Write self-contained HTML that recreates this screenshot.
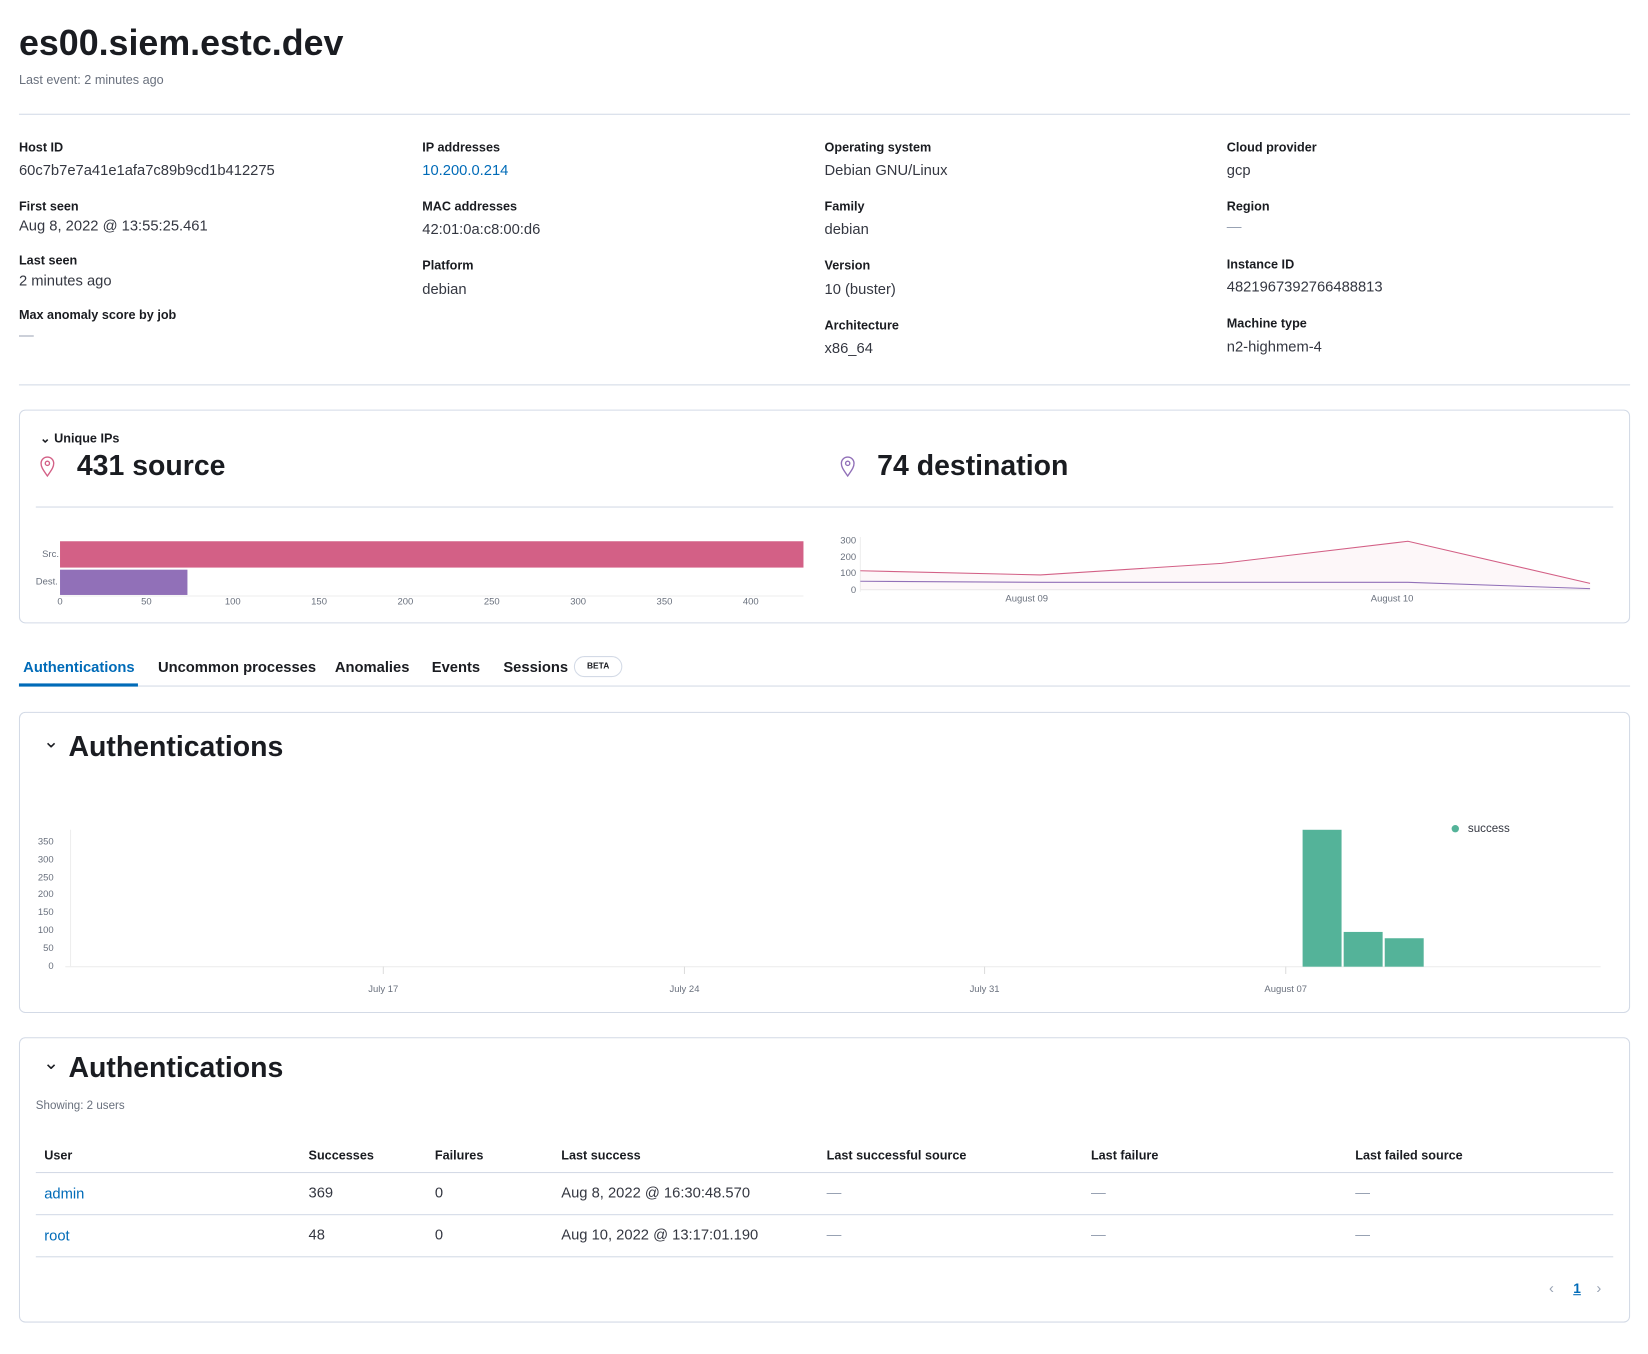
<!DOCTYPE html>
<html><head><meta charset="utf-8"><style>
html,body{margin:0;padding:0;background:#fff;width:1648px;height:1354px;overflow:hidden}
#w{position:absolute;left:0;top:0;width:1565px;height:1286px;transform:scale(1.05303);transform-origin:0 0;font-family:"Liberation Sans",sans-serif;color:#343741}
.a{position:absolute;white-space:nowrap}
.lb{font-size:12px;font-weight:bold;color:#1a1c21}
.v{font-size:14px;color:#343741}
.hr{position:absolute;height:1px;background:#d3dae6}
.card{position:absolute;border:1px solid #d3dae6;border-radius:6px;background:#fff}
.t{font-size:11px;color:#69707d}
.tab{font-size:14px;font-weight:bold;color:#1a1c21}
.h{font-size:12px;font-weight:bold;color:#1a1c21}
.dash{color:#98a2b3}
</style></head><body><div id="w">
<div class="a" style="left:18px;top:22px;font-size:34px;font-weight:bold;color:#1a1c21">es00.siem.estc.dev</div>
<div class="a" style="left:18px;top:69px;font-size:12px;color:#69707d">Last event: 2 minutes ago</div>
<div class="hr" style="left:18px;width:1530px;top:108px"></div>

<div class="a lb" style="left:18px;top:133px">Host ID</div><div class="a v" style="left:18px;top:153px">60c7b7e7a41e1afa7c89b9cd1b412275</div>
<div class="a lb" style="left:18px;top:189px">First seen</div><div class="a v" style="left:18px;top:206px">Aug 8, 2022 @ 13:55:25.461</div>
<div class="a lb" style="left:18px;top:240px">Last seen</div><div class="a v" style="left:18px;top:258px">2 minutes ago</div>
<div class="a lb" style="left:18px;top:292px">Max anomaly score by job</div><div class="a v dash" style="left:18px;top:310px">—</div>

<div class="a lb" style="left:401px;top:133px">IP addresses</div><div class="a v" style="left:401px;top:153px;color:#006bb8">10.200.0.214</div>
<div class="a lb" style="left:401px;top:189px">MAC addresses</div><div class="a v" style="left:401px;top:209px">42:01:0a:c8:00:d6</div>
<div class="a lb" style="left:401px;top:245px">Platform</div><div class="a v" style="left:401px;top:266px">debian</div>

<div class="a lb" style="left:783px;top:133px">Operating system</div><div class="a v" style="left:783px;top:153px">Debian GNU/Linux</div>
<div class="a lb" style="left:783px;top:189px">Family</div><div class="a v" style="left:783px;top:209px">debian</div>
<div class="a lb" style="left:783px;top:245px">Version</div><div class="a v" style="left:783px;top:266px">10 (buster)</div>
<div class="a lb" style="left:783px;top:302px">Architecture</div><div class="a v" style="left:783px;top:322px">x86_64</div>

<div class="a lb" style="left:1165px;top:133px">Cloud provider</div><div class="a v" style="left:1165px;top:153px">gcp</div>
<div class="a lb" style="left:1165px;top:189px">Region</div><div class="a v dash" style="left:1165px;top:207px">—</div>
<div class="a lb" style="left:1165px;top:244px">Instance ID</div><div class="a v" style="left:1165px;top:264px">4821967392766488813</div>
<div class="a lb" style="left:1165px;top:300px">Machine type</div><div class="a v" style="left:1165px;top:321px">n2-highmem-4</div>
<div class="hr" style="left:18px;width:1530px;top:365px"></div>

<div class="card" style="left:18px;top:389px;width:1528px;height:201px"></div>
<div class="a" style="left:38px;top:409px;font-size:12px;font-weight:bold;color:#1a1c21">⌄&nbsp;Unique IPs</div>
<svg class="a" style="left:36px;top:432px" width="18" height="22" viewBox="0 0 18 22"><path d="M9 20 C4 13 3 11 3 8 a6 6 0 0 1 12 0 c0 3 -1 5 -6 12z" fill="none" stroke="#d36086" stroke-width="1.3"/><circle cx="9" cy="8" r="2" fill="none" stroke="#d36086" stroke-width="1.3"/></svg>
<div class="a" style="left:73px;top:427px;font-size:27px;font-weight:bold;color:#1a1c21">431 source</div>
<svg class="a" style="left:796px;top:432px" width="18" height="22" viewBox="0 0 18 22"><path d="M9 20 C4 13 3 11 3 8 a6 6 0 0 1 12 0 c0 3 -1 5 -6 12z" fill="none" stroke="#9170b8" stroke-width="1.3"/><circle cx="9" cy="8" r="2" fill="none" stroke="#9170b8" stroke-width="1.3"/></svg>
<div class="a" style="left:833px;top:427px;font-size:27px;font-weight:bold;color:#1a1c21">74 destination</div>
<div class="hr" style="left:34px;width:1498px;top:481px"></div>

<svg class="a" style="left:0;top:500px" width="1565" height="80" font-family="Liberation Sans" font-size="9" fill="#69707d">
<rect x="57" y="14" width="706" height="25" fill="#d36086"/>
<rect x="57" y="41" width="121" height="24" fill="#9170b8"/>
<line x1="57" y1="66" x2="763" y2="66" stroke="#eee"/>
<text x="40" y="29">Src.</text><text x="34" y="55">Dest.</text>
<g text-anchor="middle"><text x="57" y="74">0</text><text x="139" y="74">50</text><text x="221" y="74">100</text><text x="303" y="74">150</text><text x="385" y="74">200</text><text x="467" y="74">250</text><text x="549" y="74">300</text><text x="631" y="74">350</text><text x="713" y="74">400</text></g>
<g text-anchor="end"><text x="813" y="16">300</text><text x="813" y="32">200</text><text x="813" y="47">100</text><text x="813" y="63">0</text></g>
<line x1="817" y1="10" x2="817" y2="62" stroke="#eee"/>
<line x1="817" y1="60" x2="1510" y2="60" stroke="#eee"/>
<polygon points="817,42 988,46 1160,35 1337,14 1510,54 1510,60 817,60" fill="#d36086" fill-opacity="0.05"/>
<polyline points="817,42 988,46 1160,35 1337,14 1510,54" fill="none" stroke="#d36086" stroke-width="1"/>
<polyline points="817,52 988,53 1160,53 1337,53 1510,59" fill="none" stroke="#9170b8" stroke-width="1"/>
<g text-anchor="middle"><text x="975" y="71">August 09</text><text x="1322" y="71">August 10</text></g>
</svg>

<div class="a tab" style="left:22px;top:625px;color:#006bb8">Authentications</div>
<div class="a tab" style="left:150px;top:625px">Uncommon processes</div>
<div class="a tab" style="left:318px;top:625px">Anomalies</div>
<div class="a tab" style="left:410px;top:625px">Events</div>
<div class="a tab" style="left:478px;top:625px">Sessions</div>
<div class="a" style="left:545px;top:623px;width:44px;height:18px;border:1px solid #d3dae6;border-radius:10px;font-size:8px;font-weight:bold;text-align:center;line-height:18px;color:#1a1c21">BETA</div>
<div class="hr" style="left:18px;width:1530px;top:651px"></div>
<div class="a" style="left:18px;top:649px;width:113px;height:3px;background:#006bb8"></div>

<div class="card" style="left:18px;top:676px;width:1528px;height:284px"></div>
<div class="a" style="left:41px;top:694px;font-size:18px;color:#1a1c21">⌄</div>
<div class="a" style="left:65px;top:694px;font-size:27px;font-weight:bold;color:#1a1c21">Authentications</div>
<svg class="a" style="left:0;top:770px" width="1565" height="180" font-family="Liberation Sans" font-size="9" fill="#69707d">
<line x1="67" y1="18" x2="67" y2="148" stroke="#eee"/>
<line x1="62" y1="148" x2="1520" y2="148" stroke="#eee"/>
<g text-anchor="end"><text x="51" y="32">350</text><text x="51" y="49">300</text><text x="51" y="66">250</text><text x="51" y="82">200</text><text x="51" y="99">150</text><text x="51" y="116">100</text><text x="51" y="133">50</text><text x="51" y="150">0</text></g>
<g stroke="#ddd"><line x1="364" y1="148" x2="364" y2="155"/><line x1="650" y1="148" x2="650" y2="155"/><line x1="935" y1="148" x2="935" y2="155"/><line x1="1221" y1="148" x2="1221" y2="155"/></g>
<g text-anchor="middle"><text x="364" y="172">July 17</text><text x="650" y="172">July 24</text><text x="935" y="172">July 31</text><text x="1221" y="172">August 07</text></g>
<rect x="1237" y="18" width="37" height="130" fill="#54b399"/>
<rect x="1276" y="115" width="37" height="33" fill="#54b399"/>
<rect x="1315" y="121" width="37" height="27" fill="#54b399"/>
<circle cx="1382" cy="17" r="3.5" fill="#54b399"/>
<text x="1394" y="20" font-size="11" fill="#343741">success</text>
</svg>

<div class="card" style="left:18px;top:985px;width:1528px;height:269px"></div>
<div class="a" style="left:41px;top:999px;font-size:18px;color:#1a1c21">⌄</div>
<div class="a" style="left:65px;top:999px;font-size:27px;font-weight:bold;color:#1a1c21">Authentications</div>
<div class="a" style="left:34px;top:1044px;font-size:11px;color:#69707d">Showing: 2 users</div>
<div class="a h" style="left:42px;top:1090px">User</div>
<div class="a h" style="left:293px;top:1090px">Successes</div>
<div class="a h" style="left:413px;top:1090px">Failures</div>
<div class="a h" style="left:533px;top:1090px">Last success</div>
<div class="a h" style="left:785px;top:1090px">Last successful source</div>
<div class="a h" style="left:1036px;top:1090px">Last failure</div>
<div class="a h" style="left:1287px;top:1090px">Last failed source</div>
<div class="hr" style="left:34px;width:1498px;top:1113px"></div>
<div class="a v" style="left:42px;top:1125px;color:#006bb8">admin</div>
<div class="a v" style="left:293px;top:1124px">369</div>
<div class="a v" style="left:413px;top:1124px">0</div>
<div class="a v" style="left:533px;top:1124px">Aug 8, 2022 @ 16:30:48.570</div>
<div class="a v dash" style="left:785px;top:1124px">—</div><div class="a v dash" style="left:1036px;top:1124px">—</div><div class="a v dash" style="left:1287px;top:1124px">—</div>
<div class="hr" style="left:34px;width:1498px;top:1153px"></div>
<div class="a v" style="left:42px;top:1165px;color:#006bb8">root</div>
<div class="a v" style="left:293px;top:1164px">48</div>
<div class="a v" style="left:413px;top:1164px">0</div>
<div class="a v" style="left:533px;top:1164px">Aug 10, 2022 @ 13:17:01.190</div>
<div class="a v dash" style="left:785px;top:1164px">—</div><div class="a v dash" style="left:1036px;top:1164px">—</div><div class="a v dash" style="left:1287px;top:1164px">—</div>
<div class="hr" style="left:34px;width:1498px;top:1193px"></div>
<div class="a" style="left:1471px;top:1215px;font-size:14px;color:#98a2b3">‹</div>
<div class="a" style="left:1494px;top:1216px;font-size:13px;font-weight:bold;color:#006bb8;text-decoration:underline">1</div>
<div class="a" style="left:1516px;top:1215px;font-size:14px;color:#98a2b3">›</div>
</div></body></html>
